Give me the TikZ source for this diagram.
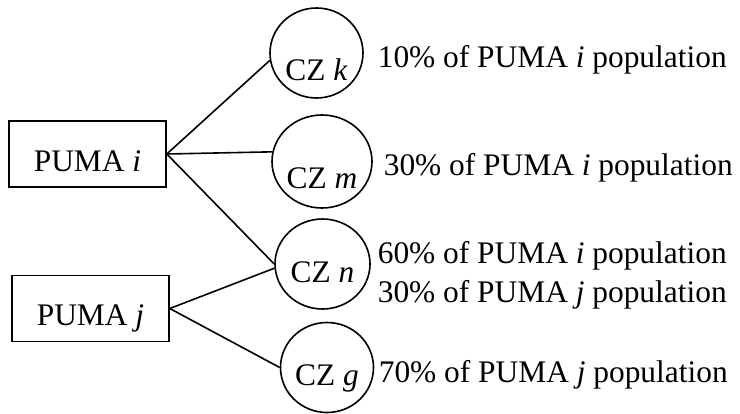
\documentclass[tikz,border=0pt]{standalone}
\usepackage{fontspec}
\setmainfont{Liberation Serif}
\usetikzlibrary{shapes.geometric}
\tikzset{every path/.style={black,line width=0.8pt},
  every node/.style={font=\fontsize{15.7}{19.5}\selectfont},
  puma/.style={draw,rectangle,minimum width=78.5pt,minimum height=33pt,inner sep=0pt,text depth=0pt,text height=17pt},
  cz/.style={draw,ellipse,minimum width=46.5pt,minimum height=45pt,inner sep=0pt,text depth=0pt,text height=18pt},
  share/.style={anchor=base west,inner sep=0pt}}

\begin{document}
\begin{tikzpicture}[x=0.5pt,y=-0.5pt]
   \useasboundingbox (0,0) rectangle (740,413);
   \node[puma] (pi) at (87.5,154) {PUMA \textit{i}};
   \node[puma] (pj) at (90.5,308.5) {PUMA \textit{j}};
   \node[cz,text height=27pt] (k) at (316.5,53) {CZ \textit{k}};
   \node[cz,text height=27pt,minimum width=50pt,minimum height=46.5pt] (m) at (322,161.5) {CZ \textit{m}};
   \node[cz,minimum width=47.5pt] (n) at (322.5,264) {CZ \textit{n}};
   \node[cz] (g) at (327,367.5) {CZ \textit{g}};
   \draw (pi.east) -- (k.189);
   \draw (pi.east) -- (m.169);
   \draw (pi.east) -- (n.west);
   \draw (pj.east) -- (n.185);
   \draw (pj.east) -- (g.west);
   \node[share] (sk) at (377,67) {10\% of PUMA \textit{i} population};
   \node[share] (sm) at (383,175) {30\% of PUMA \textit{i} population};
   \node[share] (sni) at (377,263) {60\% of PUMA \textit{i} population};
   \node[share] (snj) at (377,302) {30\% of PUMA \textit{j} population};
   \node[share] (sg) at (378,382) {70\% of PUMA \textit{j} population};
\end{tikzpicture}
\end{document}
